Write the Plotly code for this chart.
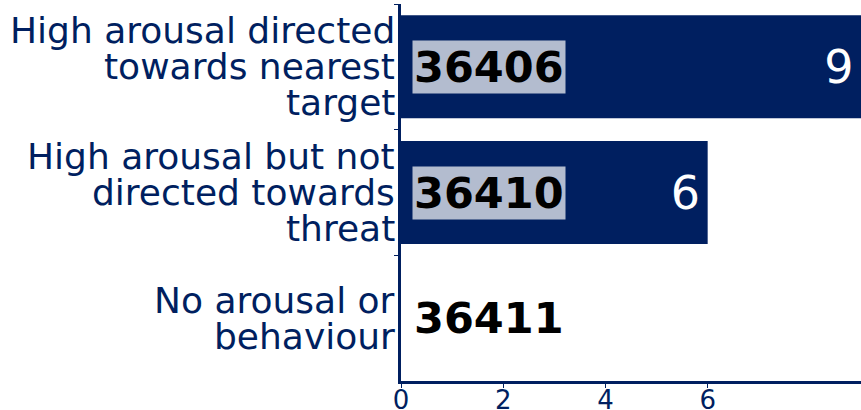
import plotly.graph_objects as go

categories = [
    "High arousal directed<br>towards nearest<br>target",
    "High arousal but not<br>directed towards<br>threat",
    "No arousal or<br>behaviour",
]
values = [9, 6, 0]
ids = ["36406", "36410", "36411"]
x_ticks = [0, 2, 4, 6]

NAVY = "#001f60"
FONT = "DejaVu Sans"

fig = go.Figure()
fig.add_trace(go.Bar(
    y=categories,
    x=values,
    orientation="h",
    marker=dict(color=NAVY, line=dict(width=0)),
    text=[(str(v) + "\u200a") if v else "" for v in values],
    textposition="inside",
    insidetextanchor="end",
    textfont=dict(family=FONT, size=46, color="white"),
    cliponaxis=False,
    hoverinfo="skip",
))

annotations = []
LINE = 36
for cat in categories:
    lines = cat.split("<br>")
    n = len(lines)
    for i, ln in enumerate(lines):
        annotations.append(dict(
            x=0, y=cat, xref="x", yref="y",
            text=ln, showarrow=False,
            xanchor="right", yanchor="middle",
            xshift=-4, yshift=((n - 1) / 2 - i) * LINE,
            font=dict(family=FONT, size=36, color=NAVY),
        ))
for cat, idv in zip(categories, ids):
    annotations.append(dict(
        x=0, y=cat, xref="x", yref="y",
        text="<b>" + idv + "</b>", showarrow=False,
        xanchor="left", yanchor="middle",
        xshift=11,
        font=dict(family=FONT, size=43, color="black"),
        bgcolor="rgba(255,255,255,0.7)",
        borderpad=1,
    ))

fig.update_layout(
    width=861, height=410,
    margin=dict(l=401, r=0, t=4, b=29, autoexpand=False),
    paper_bgcolor="white", plot_bgcolor="white",
    bargap=0.18,
    showlegend=False,
    annotations=annotations,
    font=dict(family=FONT, color=NAVY),
)
fig.update_xaxes(
    range=[0, 9], tickvals=x_ticks, automargin=False,
    showgrid=False, zeroline=False,
    showline=True, linewidth=3, linecolor=NAVY,
    ticks="outside", ticklen=4, tickwidth=1, tickcolor=NAVY,
    ticklabelstandoff=-10,
    tickfont=dict(family=FONT, size=26, color=NAVY),
)
fig.update_yaxes(
    autorange="reversed", automargin=False,
    showticklabels=False,
    showgrid=False, zeroline=False,
    showline=True, linewidth=3, linecolor=NAVY,
    ticks="outside", tickson="boundaries", ticklen=4, tickwidth=1, tickcolor=NAVY,
)

fig.write_html("out.html", config={"displayModeBar": False},
               post_script="document.body.style.margin='0px';")
